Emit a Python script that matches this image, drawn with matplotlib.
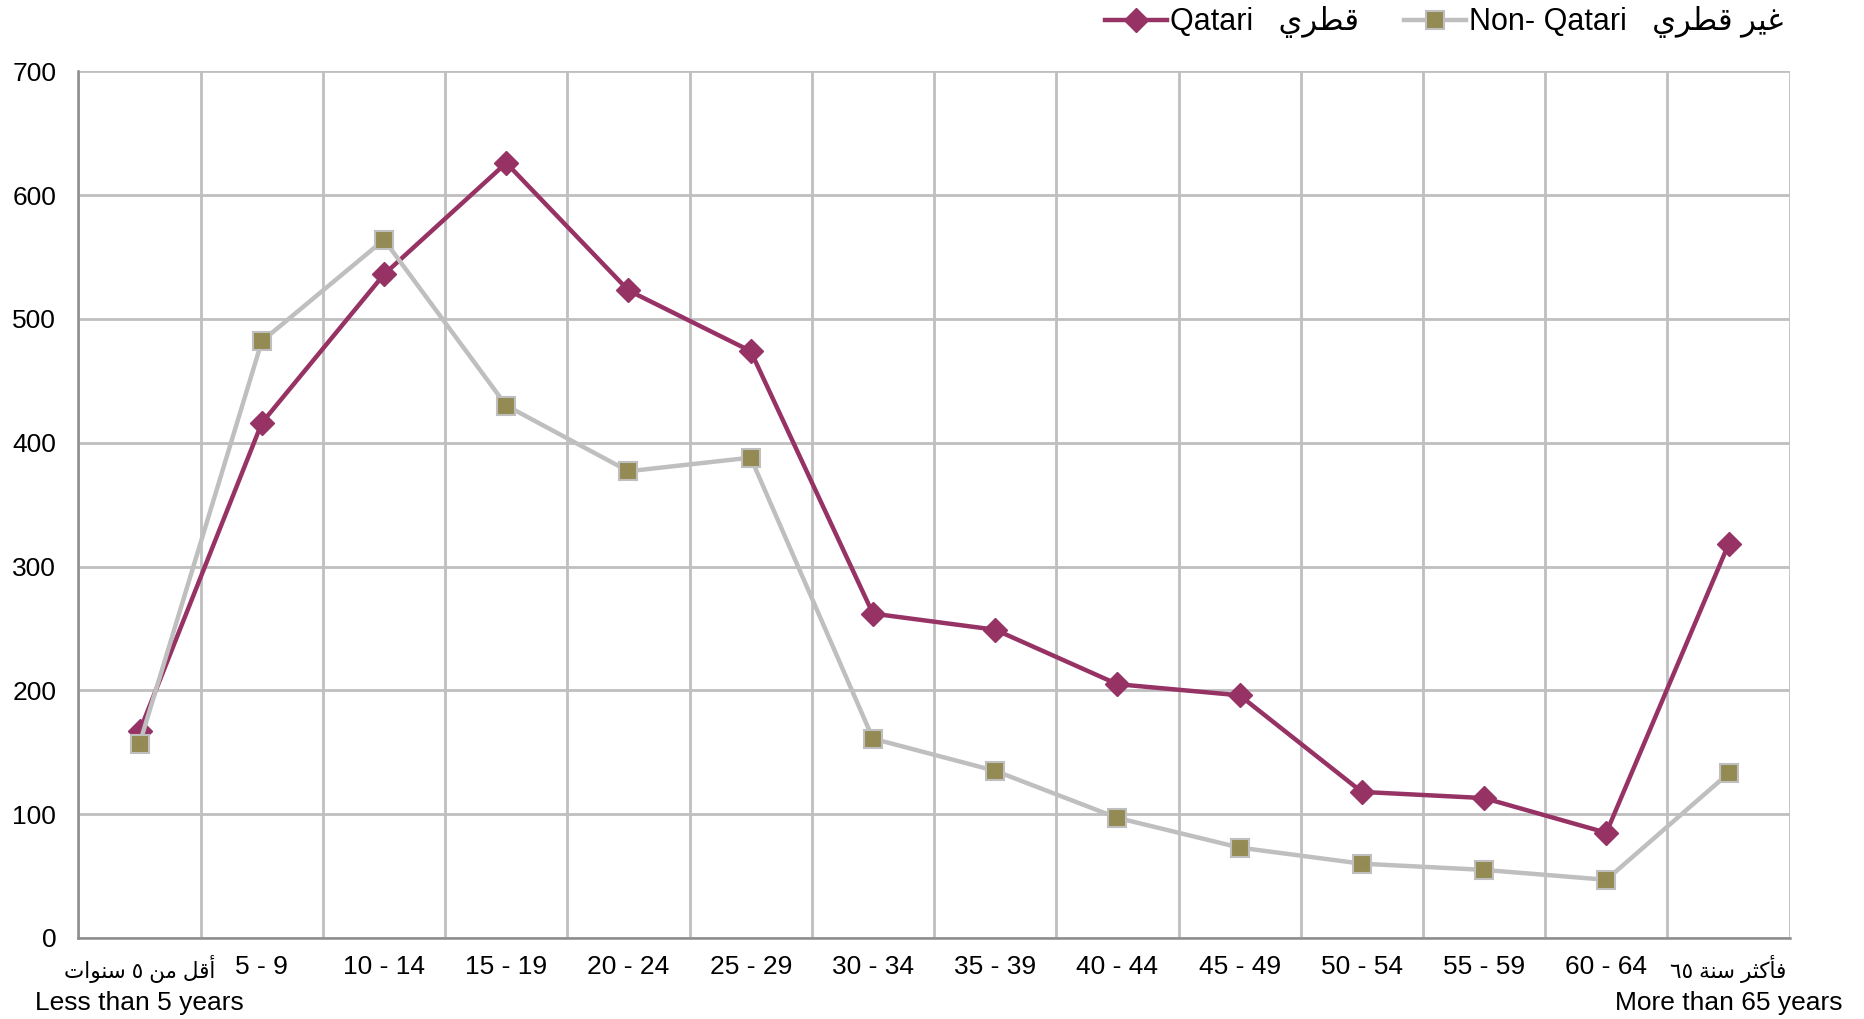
import matplotlib
matplotlib.use("Agg")
import matplotlib.pyplot as plt
from matplotlib.ticker import FixedLocator
from matplotlib.transforms import blended_transform_factory, offset_copy

# ---- data ----
age_groups = [
    "\uFE95\uFE8D\uFEEE\uFEE8\uFEB3 \u0665 \uFEE6\uFEE3 \uFEDE\uFED7\uFE83",
    "5 - 9", "10 - 14", "15 - 19", "20 - 24", "25 - 29", "30 - 34",
    "35 - 39", "40 - 44", "45 - 49", "50 - 54", "55 - 59", "60 - 64",
    "\u0666\u0665 \uFE94\uFEE8\uFEB3 \uFEAE\uFE9C\uFEDB\uFE84\uFED3",
]
english_sublabels = {0: "Less than 5 years", 13: "More than 65 years"}
qatari = [167, 416, 536, 626, 523, 474, 262, 249, 205, 196, 118, 113, 85, 318]
non_qatari = [157, 482, 564, 430, 377, 388, 161, 135, 97, 73, 60, 55, 47, 133]
series_labels = [
    "Qatari   \uFEF1\uFEAE\uFEC4\uFED7",
    "Non- Qatari   \uFEF1\uFEAE\uFEC4\uFED7 \uFEAE\uFEF4\uFECF",
]
y_ticks = [0, 100, 200, 300, 400, 500, 600, 700]

FAM = ["Liberation Sans", "DejaVu Sans"]
plt.rcParams["font.family"] = FAM

fig = plt.figure(figsize=(18.64, 10.19), dpi=100)
ax = fig.add_axes([0.0421, 0.0795, 0.9180, 0.8505])

x = list(range(1, len(age_groups) + 1))
q_color = "#963264"
grey = "#BFBFBF"

lq, = ax.plot(x, qatari, color=q_color, lw=3.2, marker="D", ms=12,
              mfc=q_color, mec=q_color, zorder=3, label=series_labels[0])
ln, = ax.plot(x, non_qatari, color=grey, lw=3.2, marker="s", ms=13,
              mfc="#948A54", mec=grey, mew=1.5, zorder=4, label=series_labels[1])

ax.set_xlim(0.5, len(age_groups) + 0.5)
ax.set_ylim(0, 700)
ax.set_xticks(x)
ax.set_xticklabels(age_groups, fontsize=19)
for i, t in enumerate(ax.get_xticklabels()):
    if i in english_sublabels:
        t.set_fontsize(15.5)
ax.set_yticks(y_ticks)
ax.set_yticklabels([str(v) for v in y_ticks], fontsize=19)
ax.xaxis.set_minor_locator(FixedLocator([i + 0.5 for i in range(0, len(age_groups) + 1)]))
ax.tick_params(axis="x", which="both", length=0, pad=12)
ax.tick_params(axis="y", length=0, pad=16)

# English second lines under the first and last categories
trans = offset_copy(blended_transform_factory(ax.transData, ax.transAxes),
                    fig=fig, x=0, y=-38, units="points")
for i, txt in english_sublabels.items():
    ax.text(x[i], 0, txt, transform=trans, ha="center", va="top", fontsize=19)

ax.grid(axis="y", which="major", color=grey, lw=2)
ax.grid(axis="x", which="minor", color=grey, lw=2)
ax.grid(axis="x", which="major", visible=False)
ax.set_axisbelow(True)

for s in ["top", "right"]:
    ax.spines[s].set_visible(False)
ax.spines["left"].set_color("#8C8C8C")
ax.spines["left"].set_linewidth(1.8)
ax.spines["bottom"].set_color("#8C8C8C")
ax.spines["bottom"].set_linewidth(1.8)

leg = fig.legend(handles=[lq, ln], loc="center right",
                 bbox_to_anchor=(0.963, 0.978), ncol=2, frameon=False,
                 fontsize=22, handlelength=2.0, handletextpad=0.1,
                 columnspacing=1.5, borderaxespad=0)

fig.savefig("out.png", dpi=100, facecolor="white")
